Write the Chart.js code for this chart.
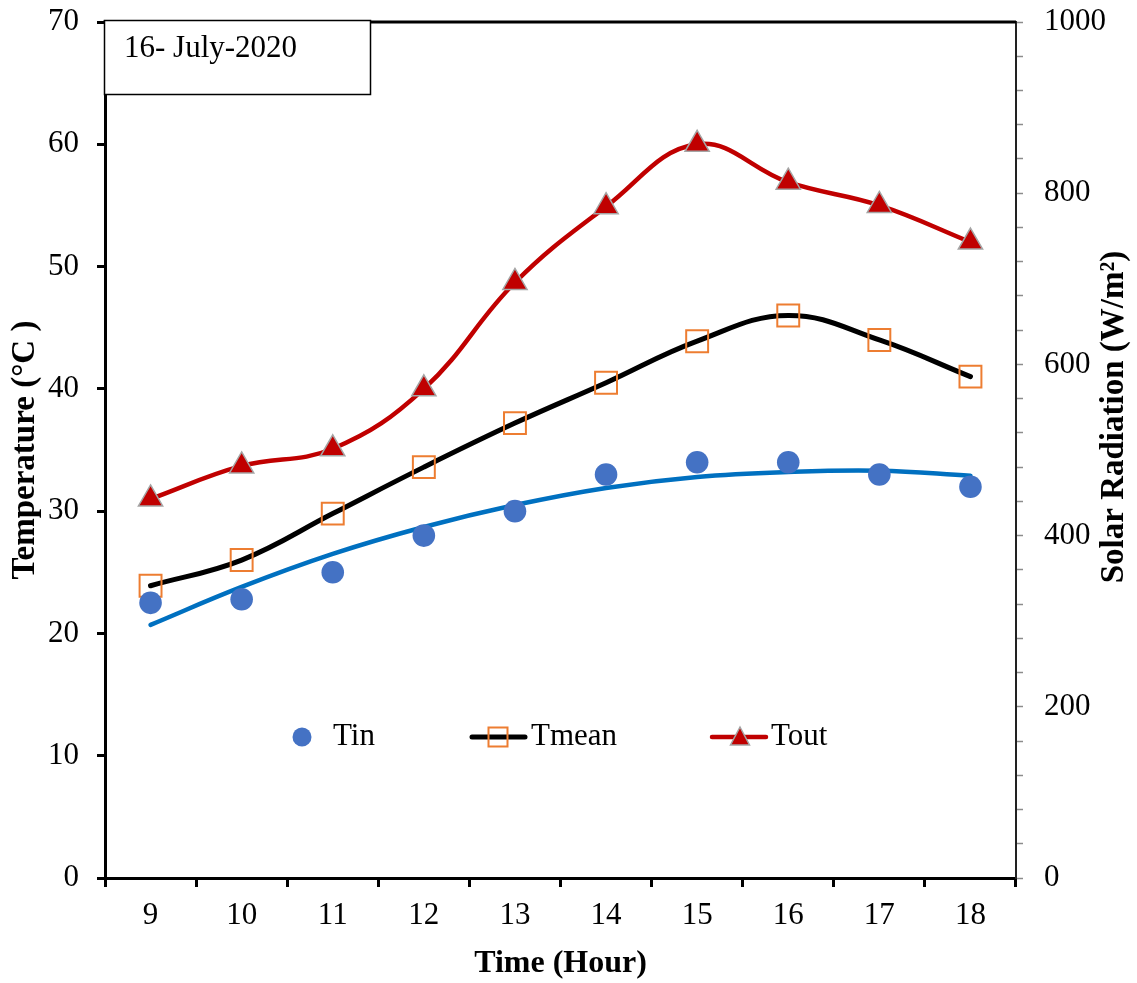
<!DOCTYPE html>
<html><head><meta charset="utf-8">
<script src="https://cdn.jsdelivr.net/npm/chart.js@4.4.1/dist/chart.umd.min.js"></script>
<style>html,body{margin:0;padding:0;background:#fff;}canvas{display:block;}</style>
</head><body>
<canvas id="c" width="1137" height="983"></canvas>
<script>
// ---- data ----
const hours = ['9', '10', '11', '12', '13', '14', '15', '16', '17', '18'];
const tin = [22.5, 22.8, 25.0, 28.0, 30.0, 33.0, 34.0, 34.0, 33.0, 32.0];
const tinTrend = [20.7, 23.8, 26.5, 28.7, 30.5, 31.9, 32.8, 33.2, 33.3, 32.9];
const tmean = [23.9, 26.0, 29.8, 33.6, 37.2, 40.5, 43.9, 46.0, 44.0, 41.0];
const tout = [31.0, 33.7, 35.1, 40.0, 48.7, 54.9, 60.0, 56.9, 55.0, 52.0];
const tempRange = [0, 70, 10];
const solarRange = [0, 1000, 40];
const solarLabelStep = 200;
const dateLabel = '16- July-2020';

const FONT = "'Liberation Serif','Times New Roman',Times,serif";

function fixPad(s) { s.paddingTop = 0; s.paddingBottom = 0; s.paddingLeft = 0; s.paddingRight = 0; }

const overlayPlugin = {
  id: 'overlay',
  afterDraw(chart) {
    const ctx = chart.ctx;
    const a = chart.chartArea;
    ctx.save();
    // top frame line
    ctx.strokeStyle = '#000';
    ctx.lineWidth = 3;
    ctx.beginPath();
    ctx.moveTo(a.left - 1.5, a.top);
    ctx.lineTo(a.right, a.top);
    ctx.stroke();
    // date box
    ctx.fillStyle = '#fff';
    ctx.fillRect(104.5, 20.5, 266, 74);
    ctx.lineWidth = 1.5;
    ctx.strokeRect(104.5, 20.5, 266, 74);
    ctx.fillStyle = '#000';
    ctx.font = '31px ' + FONT;
    ctx.textAlign = 'left';
    ctx.textBaseline = 'middle';
    ctx.fillText(dateLabel, 124, 49);
    // right axis title (reads bottom to top)
    ctx.save();
    ctx.translate(1114, 417);
    ctx.rotate(-Math.PI / 2);
    ctx.font = 'bold 33px ' + FONT;
    ctx.textAlign = 'center';
    ctx.textBaseline = 'middle';
    ctx.fillText('Solar Radiation (W/m\u00B2)', 0, 0);
    ctx.restore();
    // legend
    const items = [
      {ds: 0, mx: 302, lx0: null, lx1: null, tx: 333},
      {ds: 2, mx: 498, lx0: 472, lx1: 525, tx: 531},
      {ds: 3, mx: 740, lx0: 712, lx1: 766, tx: 771}
    ];
    const ly = 737;
    items.forEach(it => {
      const d = chart.data.datasets[it.ds];
      if (it.lx0 !== null) {
        ctx.strokeStyle = d.borderColor;
        ctx.lineWidth = d.borderWidth;
        ctx.lineCap = 'round';
        ctx.beginPath();
        ctx.moveTo(it.lx0, ly);
        ctx.lineTo(it.lx1, ly);
        ctx.stroke();
        ctx.lineCap = 'butt';
      }
      ctx.fillStyle = d.pointBackgroundColor;
      ctx.strokeStyle = d.pointBorderColor;
      ctx.lineWidth = d.pointBorderWidth;
      ctx.beginPath();
      if (d.pointStyle === 'circle') {
        ctx.arc(it.mx, ly, 9.5, 0, Math.PI * 2);
        ctx.fill();
      } else if (d.pointStyle === 'rect') {
        ctx.rect(it.mx - 9.5, ly - 9.5, 19, 19);
        ctx.stroke();
      } else if (d.pointStyle === 'triangle') {
        ctx.moveTo(it.mx, ly - 10);
        ctx.lineTo(it.mx + 9.5, ly + 8);
        ctx.lineTo(it.mx - 9.5, ly + 8);
        ctx.closePath();
        ctx.fill();
        ctx.stroke();
      }
      ctx.fillStyle = '#000';
      ctx.font = '31px ' + FONT;
      ctx.textAlign = 'left';
      ctx.textBaseline = 'middle';
      ctx.fillText(d.label, it.tx, ly);
    });
    ctx.restore();
  }
};

new Chart(document.getElementById('c'), {
  type: 'line',
  data: {
    labels: hours,
    datasets: [
      {
        label: 'Tin', data: tin, yAxisID: 'y', showLine: false,
        pointStyle: 'circle', pointRadius: 11.3, pointHoverRadius: 11.3,
        pointBackgroundColor: '#4472C4', pointBorderColor: '#4472C4', pointBorderWidth: 0,
        borderColor: '#4472C4', backgroundColor: '#4472C4'
      },
      {
        label: 'Tin trend', data: tinTrend, yAxisID: 'y',
        borderColor: '#0070C0', borderWidth: 4.5, pointRadius: 0, tension: 0.4,
        fill: false, borderCapStyle: 'round'
      },
      {
        label: 'Tmean', data: tmean, yAxisID: 'y',
        borderColor: '#000000', borderWidth: 5, tension: 0.4, fill: false, borderCapStyle: 'round',
        pointStyle: 'rect', pointRadius: 15.5, pointHoverRadius: 15.5,
        pointBackgroundColor: 'rgba(0,0,0,0)', pointBorderColor: '#ED7D31', pointBorderWidth: 2
      },
      {
        label: 'Tout', data: tout, yAxisID: 'y',
        borderColor: '#C00000', borderWidth: 4.5, tension: 0.4, fill: false, borderCapStyle: 'round',
        pointStyle: 'triangle', pointRadius: 14, pointHoverRadius: 14,
        pointBackgroundColor: '#C00000', pointBorderColor: '#A5A5A5', pointBorderWidth: 1.5
      }
    ]
  },
  options: {
    responsive: false,
    animation: false,
    devicePixelRatio: 1,
    layout: {padding: {top: 22, left: 0, right: 0, bottom: 0}},
    plugins: {legend: {display: false}, tooltip: {enabled: false}, title: {display: false}},
    scales: {
      x: {
        type: 'category', position: 'bottom', offset: true,
        grid: {display: true, offset: true, drawOnChartArea: false, drawTicks: true,
               tickLength: 9, tickWidth: 3, tickColor: '#000'},
        border: {display: true, color: '#000', width: 3},
        ticks: {color: '#000', font: {family: FONT, size: 31}, padding: 10, maxRotation: 0, autoSkip: false},
        title: {display: true, text: 'Time (Hour)', color: '#000',
                font: {family: FONT, size: 32, weight: 'bold', lineHeight: 1}, padding: {top: 0, bottom: 3}},
        afterFit(s) { s.height = 105; fixPad(s); }
      },
      y: {
        type: 'linear', position: 'left',
        min: tempRange[0], max: tempRange[1],
        grid: {display: true, drawOnChartArea: false, drawTicks: true, tickLength: 8, tickWidth: 3, tickColor: '#000'},
        border: {display: true, color: '#000', width: 3},
        ticks: {stepSize: tempRange[2], color: '#000', font: {family: FONT, size: 31}, padding: 18},
        title: {display: true, text: 'Temperature (\u00B0C )', color: '#000',
                font: {family: FONT, size: 33, weight: 'bold', lineHeight: 1}, padding: {top: 9, bottom: 0}},
        afterFit(s) { s.width = 105; fixPad(s); }
      },
      y2: {
        type: 'linear', position: 'right',
        min: solarRange[0], max: solarRange[1],
        grid: {display: true, drawOnChartArea: false, drawTicks: true, tickLength: 7, tickWidth: 1.5, tickColor: '#8c8c8c'},
        border: {display: true, color: '#222', width: 2},
        ticks: {stepSize: solarRange[2], autoSkip: false, color: '#000', font: {family: FONT, size: 31}, padding: 21,
                callback: v => (v % solarLabelStep === 0 ? String(v) : '')},
        afterFit(s) { s.width = 121; fixPad(s); }
      }
    }
  },
  plugins: [overlayPlugin]
});
</script>
</body></html>
